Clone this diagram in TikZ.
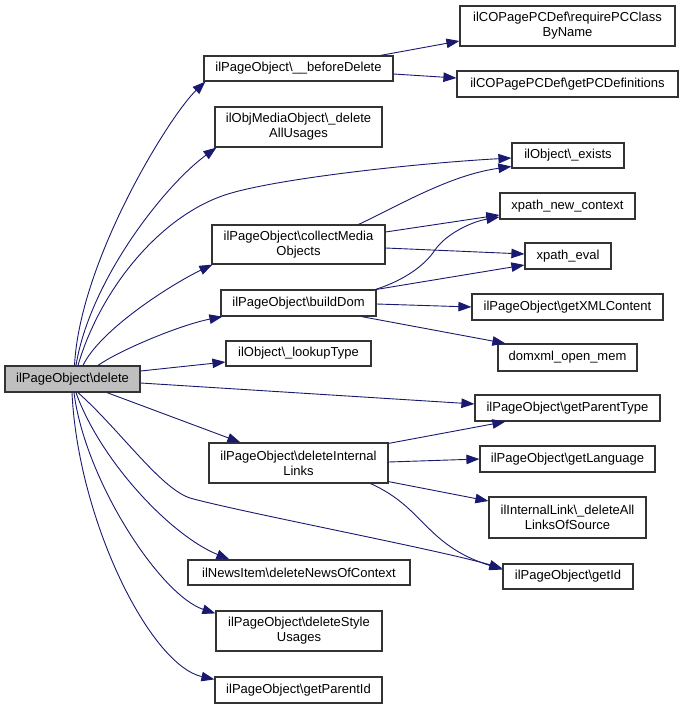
\documentclass[tikz,border=0pt]{standalone}
\usepackage{fontspec}
\setmainfont{Liberation Sans}
\usetikzlibrary{arrows.meta,calc}
\definecolor{edgec}{HTML}{191970}
\definecolor{boxc}{HTML}{333333}
\definecolor{rootfill}{HTML}{BFBFBF}
\newcommand{\bs}{\textbackslash}
\begin{document}
\begin{tikzpicture}[x=1pt,y=-1pt,
  box/.style={draw=boxc,line width=1.2pt,fill=white,inner sep=0pt,align=center,
    font=\fontsize{13}{15}\selectfont},
  edge/.style={draw=edgec,line width=0.9pt,-{Triangle[length=13pt,width=9.5pt]}}]
\useasboundingbox (0,0) rectangle (684,709);
% left column
\node[box,fill=rootfill,minimum width=135pt,minimum height=26pt] (del) at (72.5,379) {ilPageObject\bs delete};
% middle column
\node[box,minimum width=189pt,minimum height=25pt] (bd) at (298.5,68.5) {ilPageObject\bs\_\_beforeDelete};
\node[box,minimum width=167pt,minimum height=40pt] (om) at (298.5,127) {ilObjMediaObject\bs\_delete\\AllUsages};
\node[box,minimum width=173pt,minimum height=39pt] (cm) at (298.5,244.5) {ilPageObject\bs collectMedia\\Objects};
\node[box,minimum width=155pt,minimum height=26pt] (dom) at (298.5,303) {ilPageObject\bs buildDom};
\node[box,minimum width=145pt,minimum height=25pt] (lt) at (298.5,353.5) {ilObject\bs\_lookupType};
\node[box,minimum width=179pt,minimum height=40pt] (dil) at (298.5,463) {ilPageObject\bs deleteInternal\\Links};
\node[box,minimum width=222pt,minimum height=25pt] (ni) at (299,572.5) {ilNewsItem\bs deleteNewsOfContext};
\node[box,minimum width=166pt,minimum height=40pt] (dsu) at (299,631) {ilPageObject\bs deleteStyle\\Usages};
\node[box,minimum width=167pt,minimum height=26pt] (gpi) at (298.5,690) {ilPageObject\bs getParentId};
% right column
\node[box,minimum width=215pt,minimum height=40pt] (rpc) at (567.5,26) {ilCOPagePCDef\bs requirePCClass\\ByName};
\node[box,minimum width=221pt,minimum height=26pt] (gpcd) at (567.5,84) {ilCOPagePCDef\bs getPCDefinitions};
\node[box,minimum width=112pt,minimum height=25pt] (ex) at (568,155.5) {ilObject\bs\_exists};
\node[box,minimum width=135pt,minimum height=26pt] (xnc) at (567.5,206) {xpath\_new\_context};
\node[box,minimum width=86pt,minimum height=26pt] (xe) at (568,256) {xpath\_eval};
\node[box,minimum width=191pt,minimum height=26pt] (gxml) at (567.5,307) {ilPageObject\bs getXMLContent};
\node[box,minimum width=139pt,minimum height=27pt] (dxm) at (567.5,357.5) {domxml\_open\_mem};
\node[box,minimum width=185pt,minimum height=26pt] (gpt) at (567.5,408) {ilPageObject\bs getParentType};
\node[box,minimum width=175pt,minimum height=26pt] (gl) at (567.5,459) {ilPageObject\bs getLanguage};
\node[box,minimum width=157pt,minimum height=41pt] (il) at (567.5,517.5) {ilInternalLink\bs\_deleteAll\\LinksOfSource};
\node[box,minimum width=130pt,minimum height=25pt] (gid) at (568,576.5) {ilPageObject\bs getId};
% edges from delete
\draw[edge] ($(del.north)+(2,0)$) .. controls (80,260) and (170,115) .. ($(bd.south west)+(2,0)$);
\draw[edge] ($(del.north)+(3.5,0)$) .. controls (90,280) and (165,185) .. ($(om.south west)+(2,0)$);
\draw[edge] ($(del.north)+(5.5,0)$) .. controls (100,290) and (160,215) .. (228,194) .. controls (280,178) and (420,163) .. ($(ex.west)+(0,2.5)$);
\draw[edge] ($(del.north)+(10.5,0)$) .. controls (100,330) and (170,285) .. ($(cm.south west)+(1,0)$);
\draw[edge] ($(del.north)+(25.5,0)$) .. controls (120,350) and (180,325) .. ($(dom.south west)+(2,0)$);
\draw[edge] ($(del.east)+(0,-8)$) -- ($(lt.west)+(0,8.5)$);
\draw[edge] ($(del.east)+(0,4)$) -- ($(gpt.west)+(0,-4)$);
\draw[edge] ($(del.south)+(34.5,0)$) -- ($(dil.north west)+(32,0)$);
\draw[edge] ($(del.south)+(5.5,0)$) .. controls (120,430) and (160,488) .. (190,498) .. controls (240,512) and (440,550) .. ($(gid.west)+(0,-8)$);
\draw[edge] ($(del.south)+(3.5,0)$) .. controls (100,460) and (170,535) .. ($(ni.north west)+(42,0)$);
\draw[edge] ($(del.south)+(1.5,0)$) .. controls (85,480) and (160,595) .. ($(dsu.north west)+(0,3)$);
\draw[edge] ($(del.south)+(-0.5,0)$) .. controls (78,520) and (150,665) .. ($(gpi.north west)+(0,3)$);
% other edges
\draw[edge] ($(bd.north east)+(-13,0)$) -- ($(rpc.west)+(0,15)$);
\draw[edge] ($(bd.east)+(0,5.5)$) -- ($(gpcd.west)+(0,-6)$);
\draw[edge] ($(cm.north east)+(-27,0)$) .. controls (400,205) and (450,175) .. ($(ex.west)+(0,11)$);
\draw[edge] ($(cm.east)+(0,-12.5)$) -- ($(xnc.west)+(0,9)$);
\draw[edge] ($(cm.east)+(0,3.5)$) -- ($(xe.west)+(0,-2)$);
\draw[edge] ($(dom.north east)+(-1,0)$) .. controls (405,280) and (425,265) .. (435,250) .. controls (445,235) and (470,222) .. ($(xnc.west)+(0,11)$);
\draw[edge] (dom.north east) -- ($(xe.west)+(0,9)$);
\draw[edge] ($(dom.east)+(0,1)$) -- (gxml.west);
\draw[edge] ($(dom.south east)+(-15,0)$) -- ($(dxm.north west)+(8,0)$);
\draw[edge] ($(dil.north east)+(0,1)$) -- ($(gpt.south west)+(31,0)$);
\draw[edge] ($(dil.east)+(0,-1)$) -- (gl.west);
\draw[edge] ($(dil.south east)+(0,-2)$) -- ($(il.west)+(0,-16.5)$);
\draw[edge] ($(dil.south east)+(-18,0)$) .. controls (425,508) and (425,545) .. ($(gid.west)+(0,-7)$);
\end{tikzpicture}
\end{document}
